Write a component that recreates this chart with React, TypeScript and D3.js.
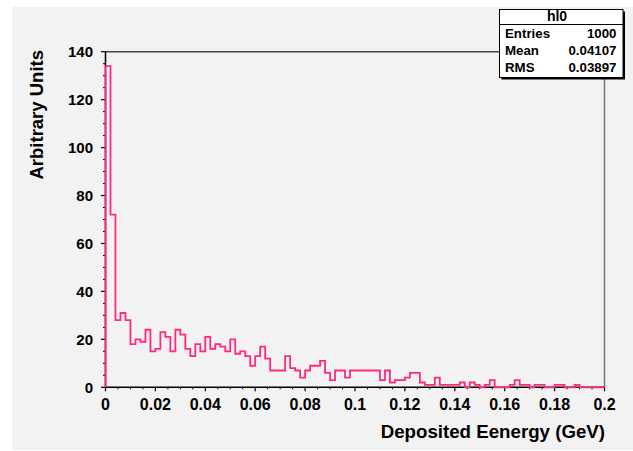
import { scaleLinear, line, curveStepAfter, range } from "d3";

// histogram hl0: 100 bins from 0 to 0.2 GeV
const binCount = 100;
const xMin = 0;
const xMax = 0.2;
const counts = [
    134, 72, 28, 31, 28, 18, 20, 19, 24, 15,
    16, 23, 21, 15, 24, 22, 16, 13, 18, 15,
    21, 16, 18, 17, 15, 20, 14, 15, 13, 9,
    13, 17, 12, 7, 7, 7, 13, 8, 7, 4,
    7, 9, 9, 11, 6, 3, 7, 7, 4, 7,
    7, 7, 7, 7, 7, 3, 7, 2, 3, 3,
    4, 6, 6, 2, 1, 1, 4, 1, 1, 1,
    1, 2, 0, 2, 1, 0, 1, 3, 0, 0,
    0, 1, 3, 1, 1, 0, 1, 1, 0, 0,
    1, 1, 0, 0, 1, 0, 0, 0, 0, 0,
];

const xTicks = [0, 0.02, 0.04, 0.06, 0.08, 0.1, 0.12, 0.14, 0.16, 0.18, 0.2];
const yTicks = [0, 20, 40, 60, 80, 100, 120, 140];

const histName = "hl0";
const statLabels = ["Entries", "Mean", "RMS"];
const statValues = ["1000", "0.04107", "0.03897"];

const xTitle = "Deposited Eenergy (GeV)";
const yTitle = "Arbitrary Units";

const font = "'Liberation Sans', Arial, Helvetica, sans-serif";

function Histogram() {
    const width = 633;
    const height = 451;
    const left = 105.5;
    const right = 604.5;
    const top = 51.7;
    const bottom = 387.3;

    const x = scaleLinear([xMin, xMax], [left, right]);
    const y = scaleLinear([0, 140], [bottom, top]);

    const binWidth = (xMax - xMin) / binCount;
    const pts: [number, number][] = [[xMin, 0]];
    counts.forEach((c, i) => pts.push([xMin + i * binWidth, c]));
    pts.push([xMax, counts[counts.length - 1]]);
    pts.push([xMax, 0]);

    const histLine = line<[number, number]>()
        .x((d) => x(d[0]))
        .y((d) => y(d[1]))
        .curve(curveStepAfter);

    const yMinor = range(0, 141, 5).filter((v) => v % 20 !== 0);
    const xMinor = range(0, 41).map((i) => i * 0.005).filter((_, i) => i % 4 !== 0);

    // stats box
    const bx = 499.5;
    const by = 9.5;
    const bw = 123.5;
    const bh = 68;

    return (
        <svg
            width={width}
            height={height}
            style={{ position: "absolute", left: 0, top: 0 }}
            fontFamily={font}
            fontWeight="bold"
        >
            <rect x={0} y={0} width={width} height={height} fill="#ffffff" />
            <rect x={12} y={7} width={width - 12} height={443} fill="#f2f2f2" />

            {/* frame */}
            <line x1={left} x2={right} y1={top} y2={top} stroke="#444" strokeWidth={1.5} />
            <line x1={right} x2={right} y1={top} y2={bottom} stroke="#777" strokeWidth={1.5} />

            {/* y axis */}
            <line x1={left} x2={left} y1={top} y2={bottom} stroke="#000" strokeWidth={1.5} />
            {yTicks.map((t) => (
                <g key={"yt" + t}>
                    <line x1={left - 4.5} x2={left} y1={y(t)} y2={y(t)} stroke="#000" strokeWidth={1.2} />
                    <text x={93} y={y(t) + 5.5} textAnchor="end" fontSize={15} fill="#000">
                        {t}
                    </text>
                </g>
            ))}
            {yMinor.map((t) => (
                <line key={"ym" + t} x1={left - 2.5} x2={left} y1={y(t)} y2={y(t)} stroke="#000" strokeWidth={1} />
            ))}

            {/* x axis */}
            <line x1={left} x2={right} y1={bottom} y2={bottom} stroke="#000" strokeWidth={1.5} />
            {xTicks.map((t) => (
                <g key={"xt" + t}>
                    <line x1={x(t)} x2={x(t)} y1={bottom} y2={bottom + 4} stroke="#000" strokeWidth={1.2} />
                    <text x={x(t)} y={409.5} textAnchor="middle" fontSize={16} fill="#000">
                        {String(+t.toFixed(2))}
                    </text>
                </g>
            ))}
            {xMinor.map((t) => (
                <line key={"xm" + t} x1={x(t)} x2={x(t)} y1={bottom} y2={bottom + 2} stroke="#000" strokeWidth={1} />
            ))}

            <path d={histLine(pts) ?? ""} fill="none" stroke="#ff2a80" strokeWidth={1.8} />

            {/* titles */}
            <text x={605} y={437.5} textAnchor="end" fontSize={18.7} fill="#000">
                {xTitle}
            </text>
            <text
                transform={`translate(42.5, 50) rotate(-90)`}
                textAnchor="end"
                fontSize={18.5}
                fill="#000"
            >
                {yTitle}
            </text>

            {/* stats box */}
            <rect x={bx + 2} y={by + 2} width={bw} height={bh} fill="#000" />
            <rect x={bx} y={by} width={bw} height={bh} fill="#ffffff" stroke="#000" strokeWidth={1} />
            <line x1={bx} x2={bx + bw} y1={24.5} y2={24.5} stroke="#000" strokeWidth={1} />
            <text x={557} y={21} textAnchor="middle" fontSize={14} fill="#000">
                {histName}
            </text>
            {statLabels.map((s, i) => (
                <g key={s}>
                    <text x={505} y={37.5 + i * 17.2} fontSize={13.3} fill="#000">
                        {s}
                    </text>
                    <text x={616.5} y={37.5 + i * 17.2} textAnchor="end" fontSize={13.3} fill="#000">
                        {statValues[i]}
                    </text>
                </g>
            ))}
        </svg>
    );
}

export default function App() {
    return (
        <div>
            <Histogram />
        </div>
    );
}
